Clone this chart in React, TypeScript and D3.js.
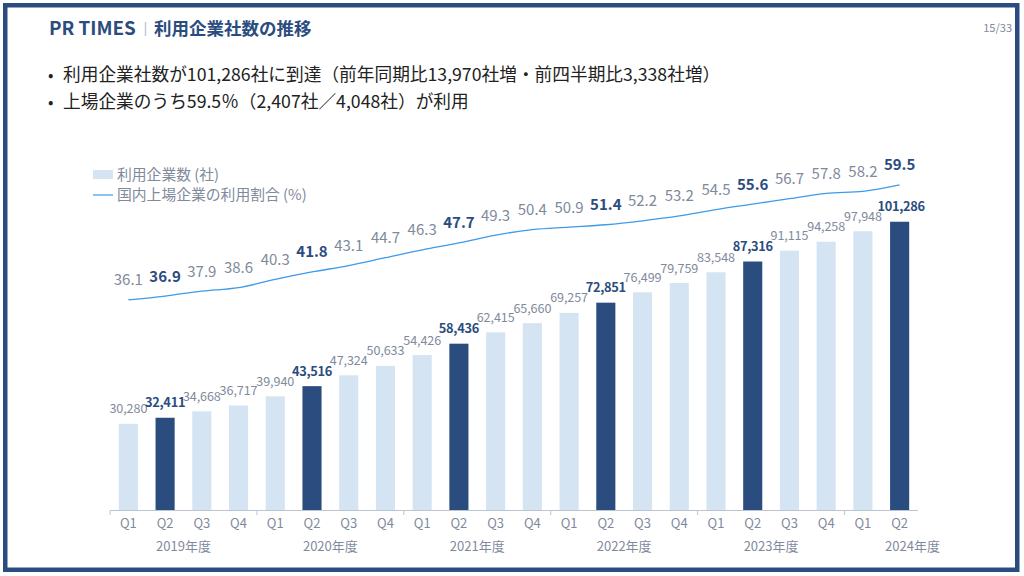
import React from "react";
import * as d3 from "d3";

const fiscalYears = ["2019年度", "2020年度", "2021年度", "2022年度", "2023年度", "2024年度"];
const quarterLabels = [
  "Q1", "Q2", "Q3", "Q4",
  "Q1", "Q2", "Q3", "Q4",
  "Q1", "Q2", "Q3", "Q4",
  "Q1", "Q2", "Q3", "Q4",
  "Q1", "Q2", "Q3", "Q4",
  "Q1", "Q2",
];
const companies = [
  30280, 32411, 34668, 36717,
  39940, 43516, 47324, 50633,
  54426, 58436, 62415, 65660,
  69257, 72851, 76499, 79759,
  83548, 87316, 91115, 94258,
  97948, 101286,
];
const ratios = [
  36.1, 36.9, 37.9, 38.6,
  40.3, 41.8, 43.1, 44.7,
  46.3, 47.7, 49.3, 50.4,
  50.9, 51.4, 52.2, 53.2,
  54.5, 55.6, 56.7, 57.8,
  58.2, 59.5,
];
const bullets = [
  "利用企業社数が101,286社に到達（前年同期比13,970社増・前四半期比3,338社増）",
  "上場企業のうち59.5％（2,407社／4,048社）が利用",
];
const legendLabels = ["利用企業数 (社)", "国内上場企業の利用割合 (%)"];

const NAVY = "#2b4c7e";
const LIGHT = "#d5e4f3";
const GRAY = "#7f8a9c";
const LINE = "#3d9be9";
const FONT = "'Noto Sans CJK JP', 'Noto Sans', sans-serif";

export default function App() {
  const keys = companies.map((_, i) => String(i));
  const x = d3.scaleBand<string>().domain(keys).range([110, 918]).paddingInner(0.48).paddingOuter(0.24);
  const step = x.step();
  const yBar = d3.scaleLinear().domain([0, 110000]).range([510, 510 - 110000 * 0.002846]);
  const yLine = d3.scaleLinear().domain([0, 100]).range([477.4, 477.4 - 491.5]);
  const cx = (i: number) => (x(String(i)) as number) + x.bandwidth() / 2;
  const isQ2 = (i: number) => quarterLabels[i] === "Q2";

  const lineGen = d3
    .line<number>()
    .x((_, i) => cx(i))
    .y((d) => yLine(d))
    .curve(d3.curveMonotoneX);

  const axisStart = x.range()[0];
  const axisEnd = x.range()[1];
  const groupStarts = fiscalYears.map((_, g) => axisStart + g * 4 * step);

  return (
    <svg
      width={1024}
      height={576}
      style={{ position: "fixed", left: 0, top: 0, background: "#fff" }}
      fontFamily={FONT}
    >
      <rect x={0} y={0} width={1024} height={576} fill="#fff" />
      <rect x={5.25} y={5.25} width={1012} height={564.5} fill="none" stroke={NAVY} strokeWidth={4.5} />

      {/* title */}
      <text x={49} y={35} fontSize={18.8} fontWeight={700} fill={NAVY}>PR TIMES</text>
      <line x1={145.5} x2={145.5} y1={22} y2={36} stroke="#c3cad6" strokeWidth={1.5} />
      <text x={154} y={35} fontSize={17.5} fontWeight={700} fill={NAVY}>利用企業社数の推移</text>
      <text x={1012} y={32} fontSize={11} fill={GRAY} textAnchor="end">15/33</text>

      {/* bullets */}
      {bullets.map((b, i) => (
        <g key={i}>
          <text x={48} y={81 + i * 27} fontSize={16} fill="#222">•</text>
          <text x={63} y={81 + i * 27} fontSize={17.7} fill="#222">{b}</text>
        </g>
      ))}

      {/* legend */}
      <rect x={93} y={170} width={20} height={9} fill={LIGHT} />
      <text x={117} y={180} fontSize={14.8} fill={GRAY}>{legendLabels[0]}</text>
      <line x1={93} x2={113} y1={195} y2={195} stroke={LINE} strokeWidth={1.2} />
      <text x={117} y={200} fontSize={14.8} fill={GRAY}>{legendLabels[1]}</text>

      {/* bars */}
      {companies.map((v, i) => (
        <rect
          key={i}
          x={x(String(i))}
          y={yBar(v)}
          width={x.bandwidth()}
          height={yBar(0) - yBar(v)}
          fill={isQ2(i) ? NAVY : LIGHT}
        />
      ))}
      {companies.map((v, i) => (
        <text
          key={i}
          x={cx(i) + (i === companies.length - 1 ? 1.5 : 0)}
          y={yBar(v) - 10.5}
          fontSize={isQ2(i) ? 12.8 : 12.6}
          letterSpacing={isQ2(i) ? -0.3 : -0.1}
          textAnchor="middle"
          fontWeight={isQ2(i) ? 700 : 400}
          fill={isQ2(i) ? NAVY : GRAY}
        >
          {d3.format(",")(v)}
        </text>
      ))}

      {/* line */}
      <path d={lineGen(ratios) || ""} fill="none" stroke={LINE} strokeWidth={1.3} />
      {ratios.map((v, i) => (
        <text
          key={i}
          x={cx(i)}
          y={yLine(v) - 14.5}
          fontSize={15}
          textAnchor="middle"
          fontWeight={isQ2(i) ? 700 : 400}
          fill={isQ2(i) ? NAVY : GRAY}
        >
          {v.toFixed(1)}
        </text>
      ))}

      {/* axis */}
      <line x1={axisStart} x2={axisEnd} y1={510.5} y2={510.5} stroke="#bcc5d3" strokeWidth={1} />
      {groupStarts.map((gx, g) => (
        <line key={g} x1={gx} x2={gx} y1={510.5} y2={515} stroke="#bcc5d3" strokeWidth={1} />
      ))}
      {quarterLabels.map((q, i) => (
        <text key={i} x={cx(i)} y={528} fontSize={13} textAnchor="middle" fill={GRAY}>{q}</text>
      ))}
      {fiscalYears.map((fy, g) => {
        const n = Math.min(4, companies.length - g * 4);
        const center = n === 4 ? groupStarts[g] + 2 * step : groupStarts[g] + 1.85 * step;
        return (
          <text key={g} x={center} y={551} fontSize={13} textAnchor="middle" fill={GRAY}>{fy}</text>
        );
      })}
    </svg>
  );
}
